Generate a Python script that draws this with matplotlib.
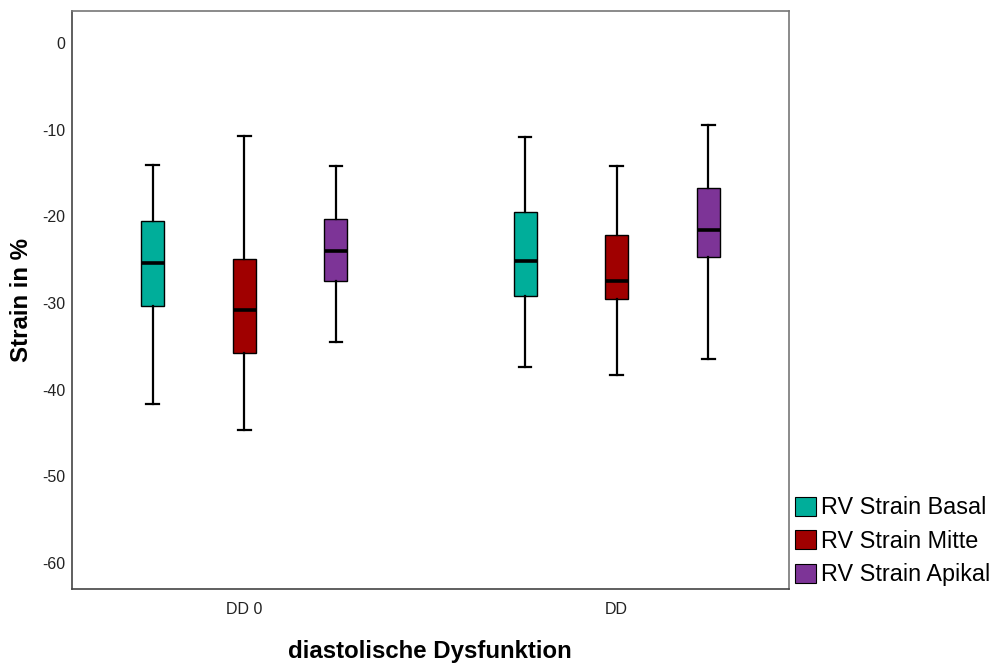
import matplotlib.pyplot as plt
from matplotlib.patches import Patch

plt.rcParams['font.family'] = ['Liberation Sans', 'DejaVu Sans']

groups = ['DD 0', 'DD']
series = ['RV Strain Basal', 'RV Strain Mitte', 'RV Strain Apikal']
colors = ['#00ae9a', '#a00000', '#7d3497']

# per series: (whislo, q1, med, q3, whishi) for DD 0 and DD
basal = [(-41.7, -30.4, -25.35, -20.6, -14.06), (-37.4, -29.2, -25.2, -19.55, -10.9)]
mitte = [(-44.7, -35.8, -30.8, -24.9, -10.7), (-38.3, -29.5, -27.5, -22.2, -14.25)]
apikal = [(-34.5, -27.5, -24.0, -20.3, -14.2), (-36.5, -24.7, -21.6, -16.7, -9.5)]
yticks = [0, -10, -20, -30, -40, -50, -60]

fig = plt.figure(figsize=(9.92, 6.68), dpi=100)
ax = fig.add_axes([0.0726, 0.118, 0.7224, 0.866])

offset = 0.246
for i, (data, col) in enumerate(zip([basal, mitte, apikal], colors)):
    stats = []
    for lo, q1, med, q3, hi in data:
        stats.append(dict(whislo=lo, q1=q1, med=med, q3=q3, whishi=hi, fliers=[]))
    pos = [g + 1 + (i - 1) * offset for g in range(len(groups))]
    ax.bxp(stats, positions=pos, widths=0.062, capwidths=0.034, patch_artist=True,
           showfliers=False,
           boxprops=dict(facecolor=col, edgecolor='black', linewidth=1.0),
           medianprops=dict(color='black', linewidth=2.6),
           whiskerprops=dict(color='black', linewidth=1.6),
           capprops=dict(color='black', linewidth=1.6))

ax.set_xlim(0.537, 2.462)
ax.set_ylim(-63.0, 3.7)
ax.set_xticks([1, 2])
ax.set_xticklabels(groups)
ax.set_yticks(yticks)
ax.set_yticklabels([str(t) for t in yticks])
ax.tick_params(length=0, labelsize=11.5, colors='#222222')
ax.tick_params(axis='x', pad=9)
ax.tick_params(axis='y', pad=5)
for s in ['left', 'bottom']:
    ax.spines[s].set_color('#444444')
for s in ['top', 'right']:
    ax.spines[s].set_color('#777777')
for s in ax.spines.values():
    s.set_linewidth(1.2)

ax.set_xlabel('diastolische Dysfunktion', fontsize=17.3, fontweight='bold')
ax.set_ylabel('Strain in %', fontsize=17.3, fontweight='bold')
ax.xaxis.set_label_coords(0.5, -0.088)
ax.yaxis.set_label_coords(-0.054, 0.5)

handles = [Patch(facecolor=c, edgecolor='black', linewidth=0.8) for c in colors]
fig.legend(handles, series, loc='upper left', bbox_to_anchor=(0.801, 0.257),
           frameon=False, fontsize=16.8, handlelength=0.9, handleheight=0.9,
           handletextpad=0.25, labelspacing=0.45, borderaxespad=0, borderpad=0)

fig.savefig('out.png', dpi=100)
